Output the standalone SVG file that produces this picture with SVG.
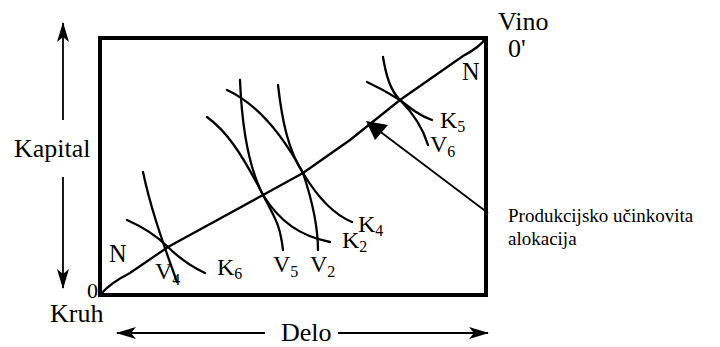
<svg xmlns="http://www.w3.org/2000/svg" width="720" height="347" viewBox="0 0 720 347">
<defs>
<style>
text{font-family:"Liberation Serif","Times New Roman",serif;fill:#000;font-size:20px}
.s{font-size:13.3px}
.curve{fill:none;stroke:#000;stroke-width:2.3;stroke-linecap:round}
.axis{fill:none;stroke:#000;stroke-width:1.8}
</style>
<marker id="stealth" viewBox="0 0 20 12" refX="19" refY="6" markerWidth="20" markerHeight="12" markerUnits="userSpaceOnUse" orient="auto">
<path d="M0,0 L20,6 L0,12 L5,6 Z" fill="#000"/>
</marker>
</defs>
<rect width="720" height="347" fill="#fff"/>

<g id="box">
<rect x="100" y="38" width="386" height="257" fill="none" stroke="#000" stroke-width="4"/>
</g>

<g id="connectors">
<line class="axis" x1="63" y1="120" x2="63" y2="23" marker-end="url(#stealth)"/>
<line class="axis" x1="63" y1="177" x2="63" y2="288" marker-end="url(#stealth)"/>
<line class="axis" x1="265" y1="333" x2="117" y2="333" marker-end="url(#stealth)"/>
<line class="axis" x1="338" y1="333" x2="488" y2="333" marker-end="url(#stealth)"/>
<line x1="488" y1="213" x2="380" y2="131.5" stroke="#000" stroke-width="1.8"/>
<polygon points="366,121 388,125 375,140" fill="#000"/>
</g>

<g id="contract-curve">
<path class="curve" d="M100,295 Q110,283 130,273 L168,247 L263,195 L303,173 L350,140 L400,100 L463,56 Q480,47 486,38"/>
</g>

<g id="isoquants">
<path class="curve" d="M143,172 C150,205 160,235 177,282"/>
<path class="curve" d="M127,220 C145,228 158,237 168,247 S190,266 205,273"/>
<path class="curve" d="M240,80 C242,130 250,170 263,195 S280,225 283,250"/>
<path class="curve" d="M207,117 C225,130 240,150 263,195 C280,222 300,236 330,242"/>
<path class="curve" d="M227,90 C255,103 280,130 303,173 C315,193 330,213 352,222"/>
<path class="curve" d="M278,85 C282,120 288,150 303,173 C312,200 318,225 318,250"/>
<path class="curve" d="M383,57 C386,75 390,90 400,100 C412,112 422,125 428,145"/>
<path class="curve" d="M367,82 C380,88 392,95 400,100 C410,108 420,116 432,120"/>
</g>

<g id="labels">
<text transform="translate(14,157) scale(1.3)">Kapital</text>
<text transform="translate(50,322) scale(1.3)">Kruh</text>
<text transform="translate(87,298) scale(1.1)">0</text>
<text transform="translate(281,341) scale(1.3)">Delo</text>
<text transform="translate(498,30) scale(1.3)">Vino</text>
<text transform="translate(508,57) scale(1.3)">0'</text>
<text transform="translate(109,262) scale(1.22)">N</text>
<text transform="translate(462,80) scale(1.22)">N</text>
<text transform="translate(155,279) scale(1.2)">V<tspan class="s" dy="5">4</tspan></text>
<text transform="translate(217,275) scale(1.2)">K<tspan class="s" dy="3">6</tspan></text>
<text transform="translate(273,272) scale(1.2)">V<tspan class="s" dy="4">5</tspan></text>
<text transform="translate(310,272) scale(1.2)">V<tspan class="s" dy="4">2</tspan></text>
<text transform="translate(342,248) scale(1.2)">K<tspan class="s" dy="3">2</tspan></text>
<text transform="translate(358,232) scale(1.2)">K<tspan class="s" dy="3">4</tspan></text>
<text transform="translate(440,128) scale(1.2)">K<tspan class="s" dy="3">5</tspan></text>
<text transform="translate(430,152) scale(1.2)">V<tspan class="s" dy="4">6</tspan></text>
<text x="508" y="222" style="font-size:19px">Produkcijsko učinkovita</text>
<text x="508" y="245" style="font-size:19px">alokacija</text>
</g>
</svg>
